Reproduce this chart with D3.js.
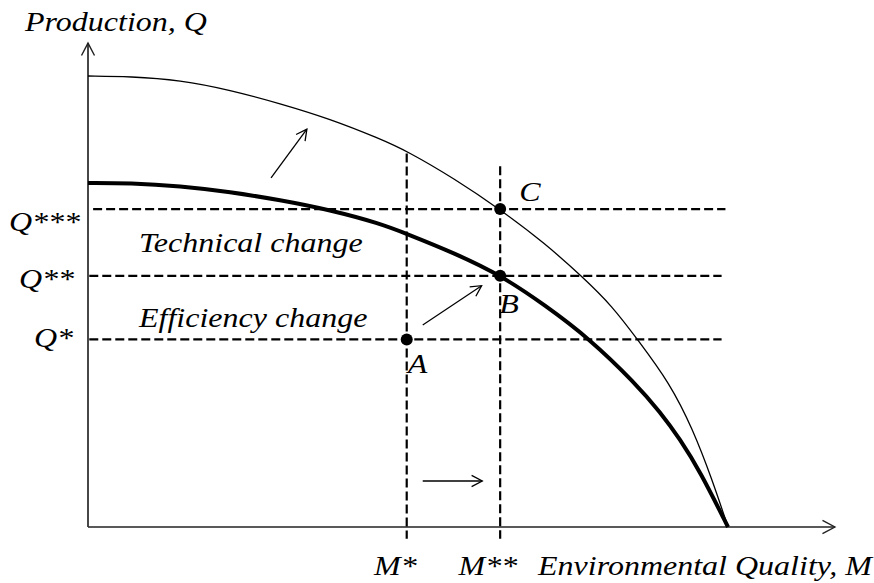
<!DOCTYPE html>
<html>
<head>
<meta charset="utf-8">
<script src="https://cdn.jsdelivr.net/npm/d3@7"></script>
</head>
<body style="margin:0">
<svg id="chart" width="874" height="583"></svg>
<script>
// ---- data (M = environmental quality, Q = production) ----
const outerFrontierM = [0, 6.6, 14.4, 22.2, 30.0, 37.8, 45.6, 49.8, 57.3, 64.4, 71.4, 77.3, 81.9, 85.9, 90.9, 94.5, 97.5, 100];
const outerFrontierQ = [100, 99.9, 99.1, 96.9, 93.9, 90.5, 86.1, 83.4, 77.2, 70.4, 62.9, 55.4, 49.0, 41.5, 31.9, 21.7, 10.6, 0];
const innerFrontierM = [0, 6.6, 14.4, 22.2, 30.0, 37.8, 45.6, 49.8, 57.3, 64.4, 71.4, 78.4, 85.5, 89.4, 92.5, 95.6, 100];
const innerFrontierQ = [76.3, 76.3, 75.6, 74.3, 72.5, 70.3, 67.3, 65.0, 60.7, 55.9, 49.2, 41.7, 31.9, 25.5, 19.5, 12.4, 0];

const qLevelLabels = ["Q***", "Q**", "Q*"];
const qLevels = [70.5, 55.7, 41.6];
const mLevelLabels = ["M*", "M**"];
const mLevels = [49.8, 64.4];
const mLineTops = [82.8, 80.0];

const pointLabels = ["A", "B", "C"];
const pointM = [49.8, 64.4, 64.4];
const pointQ = [41.6, 55.7, 70.5];

const bandLabels = ["Technical change", "Efficiency change"];

// arrows: start (M0,Q0) -> end (M1,Q1)
const arrowsM0 = [28.6, 52.3, 52.3];
const arrowsQ0 = [77.4, 44.8, 10.2];
const arrowsM1 = [34.2, 61.5, 61.6];
const arrowsQ1 = [88.2, 53.5, 10.2];

const xAxisLabel = "Environmental Quality, M";
const yAxisLabel = "Production, Q";

// ---- scales ----
const x = d3.scaleLinear().domain([0, 100]).range([88, 728]);
const y = d3.scaleLinear().domain([0, 100]).range([527, 76]);

const svg = d3.select("#chart");
const BASE_FS = 28;          // largest size that keeps the serif face here
const WIDEN = 32 / 28;       // widen glyphs to the reference's text width

function arrowHead(g, x0, y0, x1, y1, len, color, width) {
  const ang = Math.atan2(y1 - y0, x1 - x0);
  const a = Math.PI / 6.5;
  const p1 = [x1 - len * Math.cos(ang - a), y1 - len * Math.sin(ang - a)];
  const p2 = [x1 - len * Math.cos(ang + a), y1 - len * Math.sin(ang + a)];
  g.append("path")
    .attr("d", `M${p1[0]},${p1[1]}L${x1},${y1}L${p2[0]},${p2[1]}`)
    .attr("fill", "none").attr("stroke", color).attr("stroke-width", width);
}

// ---- axes ----
const axes = svg.append("g");
const xEnd = x(116.7), yTop = y(107.3);
axes.append("line").attr("x1", x(0)).attr("y1", y(0)).attr("x2", xEnd).attr("y2", y(0))
  .attr("stroke", "#222").attr("stroke-width", 1.5);
axes.append("line").attr("x1", x(0)).attr("y1", y(0)).attr("x2", x(0)).attr("y2", yTop)
  .attr("stroke", "#333").attr("stroke-width", 1.8);
arrowHead(axes, x(0), y(0), xEnd, y(0), 14, "#222", 1.4);
arrowHead(axes, x(0), y(0), x(0), yTop, 14, "#222", 1.4);

// ---- dashed guide lines ----
const dash = "9,4";
const guides = svg.append("g");
qLevels.forEach((q, i) => {
  guides.append("line")
    .attr("x1", x(i === 0 ? 0.8 : 0.2)).attr("x2", x(i === 0 ? 99.6 : 99.0))
    .attr("y1", y(q)).attr("y2", y(q))
    .attr("stroke", "#000").attr("stroke-width", 2.2).attr("stroke-dasharray", dash);
});
mLevels.forEach((m, i) => {
  guides.append("line")
    .attr("x1", x(m)).attr("x2", x(m))
    .attr("y1", y(mLineTops[i])).attr("y2", y(-2.6))
    .attr("stroke", "#000").attr("stroke-width", 2.2).attr("stroke-dasharray", dash);
});

// ---- frontiers ----
const line = d3.line().x(d => x(d[0])).y(d => y(d[1])).curve(d3.curveBasis);
const outerPts = outerFrontierM.map((m, i) => [m, outerFrontierQ[i]]);
const innerPts = innerFrontierM.map((m, i) => [m, innerFrontierQ[i]]);
svg.append("path").attr("d", line(outerPts)).attr("fill", "none")
  .attr("stroke", "#000").attr("stroke-width", 1.3);
svg.append("path").attr("d", line(innerPts)).attr("fill", "none")
  .attr("stroke", "#000").attr("stroke-width", 4);

// ---- arrows ----
const arrows = svg.append("g");
arrowsM0.forEach((m0, i) => {
  const x0 = x(m0), y0 = y(arrowsQ0[i]), x1 = x(arrowsM1[i]), y1 = y(arrowsQ1[i]);
  arrows.append("line").attr("x1", x0).attr("y1", y0).attr("x2", x1).attr("y2", y1)
    .attr("stroke", "#000").attr("stroke-width", 1.3);
  arrowHead(arrows, x0, y0, x1, y1, 12, "#000", 1.3);
});

// ---- points ----
svg.append("g").selectAll("circle").data(pointLabels).join("circle")
  .attr("cx", (d, i) => x(pointM[i])).attr("cy", (d, i) => y(pointQ[i]))
  .attr("r", 6).attr("fill", "#000");

// ---- text ----
const t = svg.append("g");
function label(str, px, py, anchor) {
  const el = t.append("text")
    .attr("x", px).attr("y", py)
    .attr("font-family", "Liberation Serif")
    .attr("font-style", "italic")
    .attr("font-size", BASE_FS)
    .attr("fill", "#000")
    .attr("text-anchor", anchor || "start")
    .text(str);
  const w = el.node().getComputedTextLength();
  if (w > 0) {
    el.attr("textLength", w * WIDEN).attr("lengthAdjust", "spacingAndGlyphs");
  }
  return el;
}
label(yAxisLabel, 25, 31);
qLevelLabels.forEach((lab, i) => {
  const end = [80, 74, 73][i];
  const dy = [22, 12, 8][i];
  label(lab, end, y(qLevels[i]) + dy, "end");
});
label(bandLabels[0], 139, 252);
label(bandLabels[1], 139, 327);
const plDx = [1, -1, 19], plDy = [34, 37, -8];
pointLabels.forEach((lab, i) => {
  label(lab, x(pointM[i]) + plDx[i], y(pointQ[i]) + plDy[i]);
});
mLevelLabels.forEach((lab, i) => {
  label(lab, x(mLevels[i]) + [10, 17][i], 575, "end");
});
label(xAxisLabel, 538, 575);
</script>
</body>
</html>
